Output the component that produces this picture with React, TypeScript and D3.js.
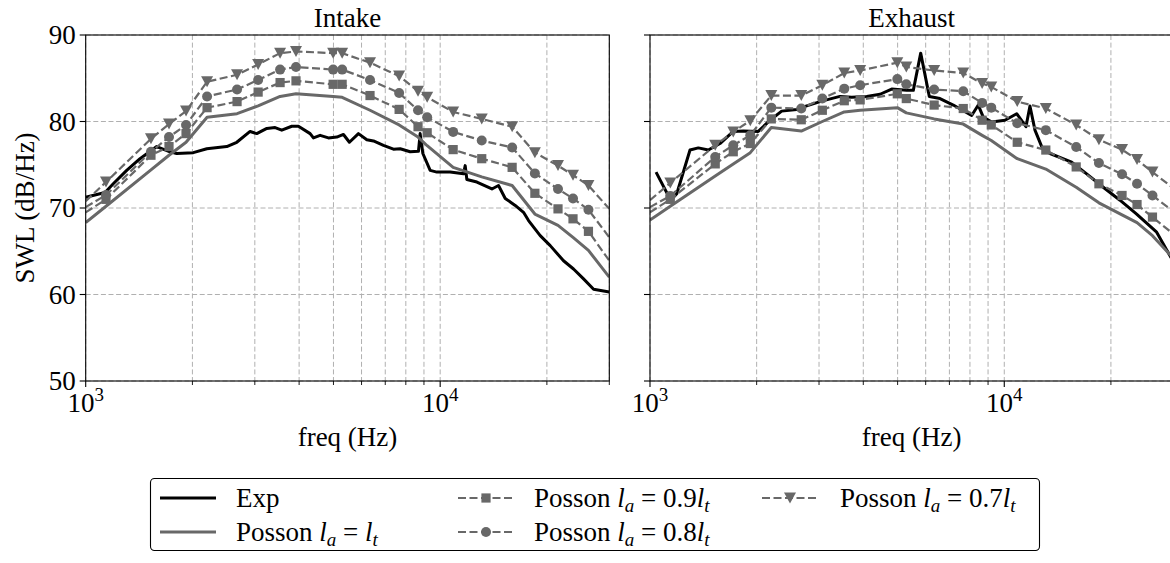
import React from 'react';
import * as d3 from 'd3';

// ---------------- DATA ----------------
const MODEL_F = [1000, 1141, 1528, 1718, 1919, 2200, 2673, 3065, 3535, 3920, 4990, 5290, 6340, 7660, 8660, 9190, 10880, 13100, 15960, 18500, 21500, 23700, 26200, 30000];

const INTAKE_EXP_F = [1000, 1134, 1196, 1305, 1423, 1586, 1729, 1806, 2012, 2196, 2500, 2668, 2909, 3038, 3243, 3422, 3574, 3814, 3982, 4297, 4390, 4585, 4838, 5110, 5335, 5546, 5880, 6211, 6484, 6918, 7382, 7711, 8230, 8684, 8780, 8937, 9371, 9788, 10670, 11636, 11765, 11893, 12693, 13994, 14607, 15261, 16280, 17183, 17756, 19150, 20440, 22284, 23780, 25380, 27090, 30000];
const INTAKE_EXP_V = [71.25, 71.8, 72.8, 74.35, 75.7, 77.1, 76.5, 76.3, 76.4, 76.85, 77.1, 77.6, 78.85, 78.6, 79.2, 79.3, 79.0, 79.45, 79.45, 78.6, 78.1, 78.4, 78.1, 78.2, 78.5, 77.6, 78.6, 77.9, 77.75, 77.25, 76.8, 76.85, 76.5, 76.55, 78.6, 76.3, 74.35, 74.15, 74.15, 73.95, 74.9, 73.3, 73.0, 72.2, 72.6, 71.1, 70.3, 69.5, 68.55, 66.8, 65.65, 63.9, 62.95, 61.8, 60.6, 60.3];
const INTAKE_LT = [68.3, 70.2, 74.4, 76.1, 77.6, 80.5, 80.9, 81.8, 82.9, 83.2, 82.9, 82.8, 81.3, 79.6, 78.2, 77.2, 74.7, 73.6, 72.6, 69.3, 68.0, 66.6, 65.1, 62.0];
const INTAKE_09 = [69.5, 71.0, 76.1, 77.1, 78.6, 81.6, 82.3, 83.4, 84.5, 84.7, 84.3, 84.3, 83.0, 81.4, 79.4, 78.7, 76.75, 75.7, 74.7, 71.7, 69.9, 68.75, 67.3, 63.9];
const INTAKE_08 = [70.1, 71.5, 76.5, 78.2, 79.6, 82.9, 83.7, 84.8, 86.0, 86.3, 86.0, 86.0, 84.8, 83.3, 81.3, 80.5, 78.8, 77.8, 77.0, 74.0, 72.2, 71.1, 69.8, 66.6];
const INTAKE_07 = [70.8, 73.0, 78.0, 79.7, 81.2, 84.6, 85.4, 86.6, 87.9, 88.1, 87.9, 87.9, 86.8, 85.25, 83.5, 82.8, 81.1, 80.3, 79.4, 76.4, 74.9, 73.8, 72.6, 69.9];

const EXHAUST_EXP_F = [1040, 1144, 1190, 1297, 1369, 1461, 1576, 1718, 1834, 2021, 2182, 2353, 2595, 2769, 3052, 3438, 3709, 4089, 4460, 4810, 5304, 5537, 5809, 6143, 6585, 7179, 8091, 8446, 8723, 9214, 10046, 10840, 11515, 11816, 12208, 12754, 13459, 15497, 17083, 19029, 21211, 23641, 26925, 30000];
const EXHAUST_EXP_V = [74.15, 70.9, 71.65, 76.7, 76.95, 76.7, 77.45, 78.85, 78.9, 78.85, 80.15, 81.2, 81.4, 81.8, 82.35, 82.9, 82.8, 82.9, 83.15, 83.75, 83.6, 83.6, 87.9, 82.9, 82.65, 81.9, 80.7, 81.9, 80.5, 79.95, 80.15, 80.9, 79.4, 81.8, 79.0, 77.1, 76.3, 75.3, 73.95, 72.4, 70.9, 69.3, 67.2, 63.8];
const EXHAUST_LT = [68.6, 70.2, 73.7, 75.1, 76.4, 79.3, 78.9, 80.0, 81.1, 81.3, 81.6, 81.0, 80.3, 79.7, 78.4, 77.8, 75.7, 74.5, 72.4, 70.6, 69.2, 68.3, 66.8, 64.2];
const EXHAUST_09 = [69.5, 71.0, 75.1, 76.5, 77.45, 80.3, 80.2, 81.3, 82.4, 82.5, 83.2, 82.65, 81.9, 81.5, 80.15, 79.6, 77.6, 76.7, 74.75, 72.8, 71.45, 70.4, 68.95, 67.0];
const EXHAUST_08 = [70.1, 71.4, 75.9, 77.25, 78.4, 81.6, 81.5, 82.65, 83.8, 84.2, 84.9, 84.3, 83.7, 83.5, 82.15, 81.6, 79.8, 79.0, 77.05, 75.2, 73.9, 72.8, 71.45, 69.6];
const EXHAUST_07 = [70.9, 72.9, 77.25, 78.8, 80.1, 83.0, 83.0, 84.2, 85.6, 85.9, 86.8, 86.3, 85.9, 85.6, 84.4, 84.0, 82.3, 81.5, 79.6, 77.9, 76.75, 75.6, 74.15, 72.3];

const Y_TICKS = [50, 60, 70, 80, 90];
const X_MAJOR = [1000, 10000];
const X_MINOR = [2000, 3000, 4000, 5000, 6000, 7000, 8000, 9000, 20000, 30000];
const PANEL_TITLES = ['Intake', 'Exhaust'];
const SERIES_COEF = ['', '0.9', '0.8', '0.7'];

// ---------------- STYLE / LAYOUT ----------------
const FONT = '"Liberation Serif", "DejaVu Serif", "Noto Serif", "Times New Roman", Times, serif';
const FS = 27;
const GRAY = '#686868';
const GRID = '#b0b0b0';
const TOP = 35;
const BOTTOM = 381;
const PANELS = [
  { x0: 85.7, x1: 609.3, showY: true },
  { x0: 650, x1: 1173.3, showY: false },
];

type Marker = 'none' | 'square' | 'circle' | 'tri';

const txt = { fontFamily: FONT, fontSize: FS } as React.CSSProperties;

function MarkerShape({ kind, cx, cy }: { kind: Marker; cx: number; cy: number }) {
  if (kind === 'square') return <rect x={cx - 4.6} y={cy - 4.6} width={9.2} height={9.2} fill={GRAY} />;
  if (kind === 'circle') return <circle cx={cx} cy={cy} r={5} fill={GRAY} />;
  if (kind === 'tri')
    return <polygon points={`${cx - 6},${cy - 5.5} ${cx + 6},${cy - 5.5} ${cx},${cy + 5.5}`} fill={GRAY} />;
  return null;
}

function PossonLabel({ x, y, coef }: { x: number; y: number; coef: string }) {
  return (
    <text x={x} y={y} style={txt} fill="#000">
      Posson{' '}
      <tspan fontStyle="italic">l</tspan>
      <tspan fontStyle="italic" style={{ fontSize: 19 }} dy={5}>a</tspan>
      <tspan dy={-5}>{' = ' + coef}</tspan>
      <tspan fontStyle="italic">l</tspan>
      <tspan fontStyle="italic" style={{ fontSize: 19 }} dy={5}>t</tspan>
    </text>
  );
}

function Panel({ idx, title, exp, models }: { idx: number; title: string; exp: { f: number[]; v: number[] }; models: number[][] }) {
  const p = PANELS[idx];
  const x = d3.scaleLog().domain([1000, 30000]).range([p.x0, p.x1]);
  const y = d3.scaleLinear().domain([50, 90]).range([BOTTOM, TOP]);
  const line = d3
    .line<[number, number]>()
    .x((d) => x(d[0]))
    .y((d) => y(d[1]));
  const clipId = `clip-${idx}`;
  const styles = [
    { stroke: GRAY, width: 3, dash: undefined as string | undefined, marker: 'none' as Marker },
    { stroke: GRAY, width: 2.2, dash: '8,3.5', marker: 'square' as Marker },
    { stroke: GRAY, width: 2.2, dash: '8,3.5', marker: 'circle' as Marker },
    { stroke: GRAY, width: 2.2, dash: '8,3.5', marker: 'tri' as Marker },
  ];
  const cx = (p.x0 + p.x1) / 2;
  return (
    <g>
      <defs>
        <clipPath id={clipId}>
          <rect x={p.x0} y={TOP} width={p.x1 - p.x0} height={BOTTOM - TOP} />
        </clipPath>
      </defs>
      {[...X_MAJOR, ...X_MINOR].map((f) => (
        <line key={'gx' + f} x1={x(f)} x2={x(f)} y1={TOP} y2={BOTTOM} stroke={GRID} strokeWidth={1} strokeDasharray="5,2.6" />
      ))}
      {Y_TICKS.map((t) => (
        <line key={'gy' + t} x1={p.x0} x2={p.x1} y1={y(t)} y2={y(t)} stroke={GRID} strokeWidth={1} strokeDasharray="5,2.6" />
      ))}
      <g clipPath={`url(#${clipId})`}>
        <path
          d={line(exp.f.map((f, i) => [f, exp.v[i]] as [number, number])) || ''}
          fill="none"
          stroke="#000"
          strokeWidth={3}
          strokeLinejoin="round"
        />
        {models.map((vals, si) => {
          const s = styles[si];
          return (
            <g key={'m' + si}>
              <path
                d={line(MODEL_F.map((f, i) => [f, vals[i]] as [number, number])) || ''}
                fill="none"
                stroke={s.stroke}
                strokeWidth={s.width}
                strokeDasharray={s.dash}
                strokeLinejoin="round"
              />
              {s.marker !== 'none' &&
                MODEL_F.map((f, i) =>
                  i === 0 || i === MODEL_F.length - 1 ? null : (
                    <MarkerShape key={i} kind={s.marker} cx={x(f)} cy={y(vals[i])} />
                  )
                )}
            </g>
          );
        })}
      </g>
      <rect x={p.x0} y={TOP} width={p.x1 - p.x0} height={BOTTOM - TOP} fill="none" stroke="#000" strokeWidth={1.1} />
      {Y_TICKS.map((t) => (
        <g key={'yt' + t}>
          <line x1={p.x0 - 6} x2={p.x0} y1={y(t)} y2={y(t)} stroke="#000" strokeWidth={1.1} />
          {p.showY && (
            <text x={p.x0 - 10} y={y(t)} dy="0.34em" textAnchor="end" style={txt}>
              {t}
            </text>
          )}
        </g>
      ))}
      {X_MAJOR.map((f) => (
        <g key={'xt' + f}>
          <line x1={x(f)} x2={x(f)} y1={BOTTOM} y2={BOTTOM + 6} stroke="#000" strokeWidth={1.1} />
          <text x={x(f)} y={BOTTOM + 31} textAnchor="middle" style={txt}>
            10<tspan style={{ fontSize: 19 }} dy={-11}>{Math.round(Math.log10(f))}</tspan>
          </text>
        </g>
      ))}
      {X_MINOR.map((f) => (
        <line key={'xm' + f} x1={x(f)} x2={x(f)} y1={BOTTOM} y2={BOTTOM + 4} stroke="#000" strokeWidth={0.9} />
      ))}
      <text x={cx} y={446} textAnchor="middle" style={txt}>
        freq (Hz)
      </text>
      <text x={cx} y={27} textAnchor="middle" style={txt}>
        {title}
      </text>
    </g>
  );
}

function LegendHandle({ x1, x2, y, kind }: { x1: number; x2: number; y: number; kind: Marker | 'exp' | 'solid' }) {
  if (kind === 'exp') return <line x1={x1} x2={x2} y1={y} y2={y} stroke="#000" strokeWidth={3} />;
  if (kind === 'solid') return <line x1={x1} x2={x2} y1={y} y2={y} stroke={GRAY} strokeWidth={3} />;
  return (
    <g>
      <line x1={x1} x2={x2} y1={y} y2={y} stroke={GRAY} strokeWidth={2.2} strokeDasharray="8,3.5" />
      <MarkerShape kind={kind} cx={(x1 + x2) / 2} cy={y} />
    </g>
  );
}

export default function App() {
  const intakeModels = [INTAKE_LT, INTAKE_09, INTAKE_08, INTAKE_07];
  const exhaustModels = [EXHAUST_LT, EXHAUST_09, EXHAUST_08, EXHAUST_07];
  const r1 = 498;
  const r2 = 532;
  return (
    <svg
      width={1170}
      height={563}
      viewBox="0 0 1170 563"
      style={{ position: 'absolute', left: 0, top: 0, background: '#fff', fontFamily: FONT }}
    >
      <rect x={0} y={0} width={1170} height={563} fill="#fff" />
      <g transform="translate(34,208) rotate(-90)">
        <text x={0} y={0} textAnchor="middle" style={txt}>
          SWL (dB/Hz)
        </text>
      </g>
      <Panel idx={0} title={PANEL_TITLES[0]} exp={{ f: INTAKE_EXP_F, v: INTAKE_EXP_V }} models={intakeModels} />
      <Panel idx={1} title={PANEL_TITLES[1]} exp={{ f: EXHAUST_EXP_F, v: EXHAUST_EXP_V }} models={exhaustModels} />
      <rect x={150.5} y={478.5} width={889} height={72} rx={4} fill="#fff" stroke="#000" strokeWidth={1.1} />
      <LegendHandle x1={160} x2={216} y={r1} kind="exp" />
      <text x={236} y={r1 + 9} style={txt}>Exp</text>
      <LegendHandle x1={160} x2={216} y={r2} kind="solid" />
      <PossonLabel x={236} y={r2 + 9} coef={SERIES_COEF[0]} />
      <LegendHandle x1={458} x2={514} y={r1} kind="square" />
      <PossonLabel x={534} y={r1 + 9} coef={SERIES_COEF[1]} />
      <LegendHandle x1={762} x2={818} y={r1} kind="tri" />
      <PossonLabel x={840} y={r1 + 9} coef={SERIES_COEF[3]} />
      <LegendHandle x1={458} x2={514} y={r2} kind="circle" />
      <PossonLabel x={534} y={r2 + 9} coef={SERIES_COEF[2]} />
    </svg>
  );
}
